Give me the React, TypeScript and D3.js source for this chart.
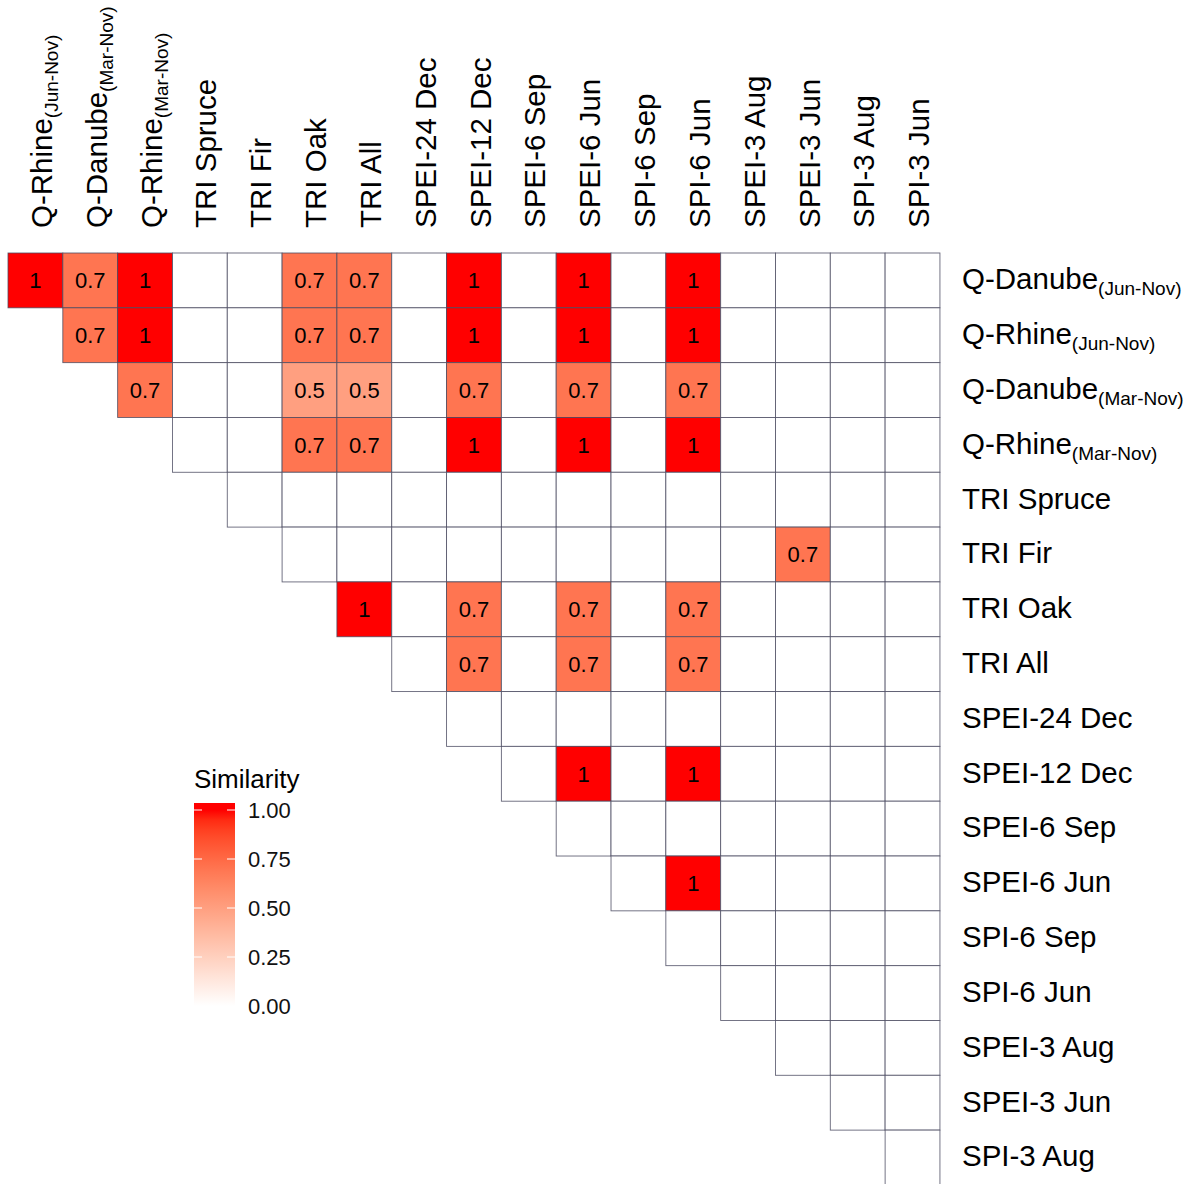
import { useMemo } from 'react';
import * as d3 from 'd3';

// column labels (top), [main, subscript]
const colLabels: [string, string][] = [
  ['Q-Rhine', '(Jun-Nov)'],
  ['Q-Danube', '(Mar-Nov)'],
  ['Q-Rhine', '(Mar-Nov)'],
  ['TRI Spruce', ''],
  ['TRI Fir', ''],
  ['TRI Oak', ''],
  ['TRI All', ''],
  ['SPEI-24 Dec', ''],
  ['SPEI-12 Dec', ''],
  ['SPEI-6 Sep', ''],
  ['SPEI-6 Jun', ''],
  ['SPI-6 Sep', ''],
  ['SPI-6 Jun', ''],
  ['SPEI-3 Aug', ''],
  ['SPEI-3 Jun', ''],
  ['SPI-3 Aug', ''],
  ['SPI-3 Jun', ''],
];

// row labels (right)
const rowLabels: [string, string][] = [
  ['Q-Danube', '(Jun-Nov)'],
  ['Q-Rhine', '(Jun-Nov)'],
  ['Q-Danube', '(Mar-Nov)'],
  ['Q-Rhine', '(Mar-Nov)'],
  ['TRI Spruce', ''],
  ['TRI Fir', ''],
  ['TRI Oak', ''],
  ['TRI All', ''],
  ['SPEI-24 Dec', ''],
  ['SPEI-12 Dec', ''],
  ['SPEI-6 Sep', ''],
  ['SPEI-6 Jun', ''],
  ['SPI-6 Sep', ''],
  ['SPI-6 Jun', ''],
  ['SPEI-3 Aug', ''],
  ['SPEI-3 Jun', ''],
  ['SPI-3 Aug', ''],
];

// similarity per row, starting at column index = row index
const similarity: number[][] = [
  [1, 0.7, 1, 0, 0, 0.7, 0.7, 0, 1, 0, 1, 0, 1, 0, 0, 0, 0],
  [0.7, 1, 0, 0, 0.7, 0.7, 0, 1, 0, 1, 0, 1, 0, 0, 0, 0],
  [0.7, 0, 0, 0.5, 0.5, 0, 0.7, 0, 0.7, 0, 0.7, 0, 0, 0, 0],
  [0, 0, 0.7, 0.7, 0, 1, 0, 1, 0, 1, 0, 0, 0, 0],
  [0, 0, 0, 0, 0, 0, 0, 0, 0, 0, 0, 0, 0],
  [0, 0, 0, 0, 0, 0, 0, 0, 0, 0.7, 0, 0],
  [1, 0, 0.7, 0, 0.7, 0, 0.7, 0, 0, 0, 0],
  [0, 0.7, 0, 0.7, 0, 0.7, 0, 0, 0, 0],
  [0, 0, 0, 0, 0, 0, 0, 0, 0],
  [0, 1, 0, 1, 0, 0, 0, 0],
  [0, 0, 0, 0, 0, 0, 0],
  [0, 1, 0, 0, 0, 0],
  [0, 0, 0, 0, 0],
  [0, 0, 0, 0],
  [0, 0, 0],
  [0, 0],
  [0],
];

const legendBreaks = [0, 0.25, 0.5, 0.75, 1];

const FONT = 'Liberation Sans, Arial, Helvetica, sans-serif';
const W = 1194;
const H = 1184;

export default function App() {
  const cell = 54.82;
  const x = d3.scaleBand<number>().domain(d3.range(17)).range([8, 8 + 17 * cell]);
  const y = d3.scaleBand<number>().domain(d3.range(17)).range([253, 253 + 17 * cell]);
  const color = d3.scaleLinear<string>().domain([0, 1]).range(['white', 'red']).interpolate(d3.interpolateLab);
  const legY = d3.scaleLinear().domain([0, 1]).range([1006, 810]);

  const cells = useMemo(
    () =>
      similarity.flatMap((row, i) =>
        row.map((v, k) => ({ r: i, c: i + k, v }))
      ),
    []
  );

  const gradStops = d3.range(0, 1.0001, 0.05);
  const barTop = legY(1) - 7;
  const barBot = legY(0) + 7;

  return (
    <svg width={W} height={H} style={{ position: 'absolute', left: 0, top: 0 }} fontFamily={FONT}>
      <defs>
        <linearGradient id="simGrad" x1="0" y1={barBot} x2="0" y2={barTop} gradientUnits="userSpaceOnUse">
          {gradStops.map((t) => (
            <stop key={t} offset={(legY(t) - barBot) / (barTop - barBot)} stopColor={color(t)} />
          ))}
        </linearGradient>
      </defs>
      <rect width={W} height={H} fill="white" />

      {cells.map((d) => (
        <g key={`${d.r}-${d.c}`}>
          <rect
            x={x(d.c)}
            y={y(d.r)}
            width={x.bandwidth()}
            height={y.bandwidth()}
            fill={color(d.v)}
            stroke="#4a4a60"
            strokeWidth={0.9}
            strokeOpacity={0.85}
          />
          {d.v > 0 && (
            <text
              x={x(d.c)! + x.bandwidth() / 2}
              y={y(d.r)! + y.bandwidth() / 2}
              dy="0.36em"
              textAnchor="middle"
              fontSize={22}
              fill="#000"
            >
              {d.v}
            </text>
          )}
        </g>
      ))}

      {colLabels.map(([main, sub], j) => (
        <text
          key={j}
          transform={`translate(${x(j)! + x.bandwidth() / 2 + 6}, 228) rotate(-90)`}
          dy="0.36em"
          fontSize={29.5}
          fill="#000"
        >
          {main}
          {sub && (
            <tspan fontSize={19} dy={6}>
              {sub}
            </tspan>
          )}
        </text>
      ))}

      {rowLabels.map(([main, sub], i) => (
        <text
          key={i}
          x={962}
          y={y(i)! + y.bandwidth() / 2}
          dy="0.3em"
          fontSize={29.5}
          fill="#000"
        >
          {main}
          {sub && (
            <tspan fontSize={19} dy={6}>
              {sub}
            </tspan>
          )}
        </text>
      ))}

      <g>
        <text x={194} y={788} fontSize={26} fill="#000">
          Similarity
        </text>
        <rect x={194} y={barTop} width={41} height={barBot - barTop} fill="url(#simGrad)" />
        {legendBreaks.map((b) => (
          <g key={b}>
            <line x1={194} x2={202} y1={legY(b)} y2={legY(b)} stroke="white" strokeWidth={1} />
            <line x1={227} x2={235} y1={legY(b)} y2={legY(b)} stroke="white" strokeWidth={1} />
            <text x={248} y={legY(b)} dy="0.36em" fontSize={22} fill="#111">
              {d3.format('.2f')(b)}
            </text>
          </g>
        ))}
      </g>
    </svg>
  );
}
